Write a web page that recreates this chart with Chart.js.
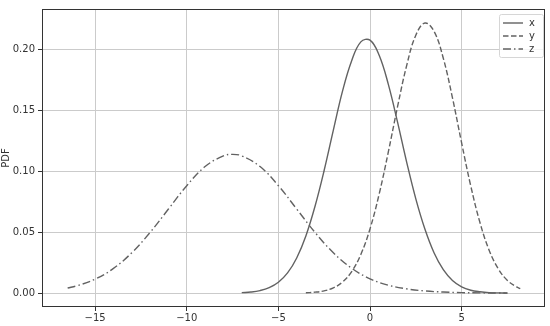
<!DOCTYPE html>
<html>
<head>
<meta charset="utf-8">
<script src="https://cdn.jsdelivr.net/npm/chart.js@4"></script>
<style>
  html, body { margin: 0; padding: 0; background: #fff; }
  #wrap { width: 550px; height: 326px; position: relative; }
</style>
</head>
<body>
<div id="wrap"><canvas id="pdfChart" width="550" height="326"></canvas></div>
<script>
// values
const xVals = [-7, -6.5, -6, -5.5, -5, -4.5, -4, -3.5, -3, -2.5, -2, -1.5, -1, -0.5, 0, 0.5, 1, 1.5, 2, 2.5, 3, 3.5, 4, 4.5, 5, 5.5, 6, 6.5, 7, 7.5];
const xPdf = [0.0004, 0.0009, 0.0021, 0.0045, 0.0089, 0.0166, 0.0289, 0.047, 0.0714, 0.101, 0.134, 0.166, 0.191, 0.2065, 0.2079, 0.1955, 0.1716, 0.1407, 0.1077, 0.0775, 0.0525, 0.033, 0.0193, 0.0104, 0.0052, 0.0024, 0.0011, 0.0004, 0.0002, 0.0001];

const yVals = [-3.5, -3, -2.5, -2, -1.5, -1, -0.5, 0, 0.5, 1, 1.5, 2, 2.5, 3, 3.5, 4, 4.5, 5, 5.5, 6, 6.5, 7, 7.5, 8, 8.2];
const yPdf = [0.0003, 0.0008, 0.0019, 0.0043, 0.0091, 0.0177, 0.0318, 0.0528, 0.0814, 0.116, 0.153, 0.187, 0.212, 0.222, 0.215, 0.193, 0.1605, 0.1234, 0.088, 0.058, 0.0353, 0.020, 0.0104, 0.0051, 0.0037];

const zVals = [-16.5, -16, -15, -14, -13, -12, -11, -10, -9, -8, -7.5, -7, -6, -5, -4, -3, -2, -1, 0, 1, 2, 3, 4, 5, 6, 7, 7.5];
const zPdf = [0.0042, 0.006, 0.0115, 0.0203, 0.0332, 0.0499, 0.0691, 0.0883, 0.104, 0.1128, 0.114, 0.1128, 0.104, 0.0883, 0.0691, 0.0499, 0.0332, 0.0205, 0.0118, 0.0065, 0.0035, 0.0018, 0.0009, 0.0004, 0.0002, 0.0001, 0.0];

const xTicks = [-15, -10, -5, 0, 5];
const yTicks = [0, 0.05, 0.10, 0.15, 0.20];

const lineColor = '#626262';

function toPoints(xs, ys) {
    return xs.map((v, i) => ({ x: v, y: ys[i] }));
}

const frameAndLegend = {
    id: 'frameAndLegend',
    afterDatasetsDraw(chart) {
        const ctx = chart.ctx;
        const a = chart.chartArea;
        ctx.save();
        // axes box
        ctx.strokeStyle = '#333';
        ctx.lineWidth = 1;
        ctx.strokeRect(a.left + 0.5, a.top + 0.5, a.right - a.left - 1, a.bottom - a.top - 1);

        // legend box in upper right
        const bx = a.right - 46, by = a.top + 5, bw = 44, bh = 43;
        ctx.fillStyle = 'rgba(255,255,255,0.8)';
        ctx.strokeStyle = '#d6d6d6';
        ctx.beginPath();
        ctx.roundRect(bx + 0.5, by + 0.5, bw, bh, 2);
        ctx.fill();
        ctx.stroke();
        ctx.font = '10px "DejaVu Sans"';
        ctx.textBaseline = 'middle';
        chart.data.datasets.forEach((ds, i) => {
            const ly = by + 9 + i * 13;
            ctx.strokeStyle = ds.borderColor;
            ctx.lineWidth = ds.borderWidth;
            ctx.setLineDash(ds.borderDash || []);
            ctx.beginPath();
            ctx.moveTo(bx + 4, ly);
            ctx.lineTo(bx + 24, ly);
            ctx.stroke();
            ctx.setLineDash([]);
            ctx.fillStyle = '#333';
            ctx.fillText(ds.label, bx + 30, ly);
        });
        ctx.restore();
    }
};

const ctx = document.getElementById('pdfChart');

new Chart(ctx, {
    type: 'line',
    data: {
        datasets: [{
            label: 'x',
            data: toPoints(xVals, xPdf),
            borderColor: lineColor,
            borderWidth: 1.4,
            pointRadius: 0,
            tension: 0.4,
            fill: false
        },
        {
            label: 'y',
            data: toPoints(yVals, yPdf),
            borderColor: lineColor,
            borderWidth: 1.4,
            borderDash: [5.5, 2.5],
            pointRadius: 0,
            tension: 0.4,
            fill: false
        },
        {
            label: 'z',
            data: toPoints(zVals, zPdf),
            borderColor: lineColor,
            borderWidth: 1.4,
            borderDash: [8, 3, 1.5, 3],
            pointRadius: 0,
            tension: 0.4,
            fill: false
        }]
    },
    options: {
        responsive: false,
        animation: false,
        events: [],
        layout: { padding: { top: 7, right: 5, left: 0, bottom: 0 } },
        plugins: {
            legend: { display: false },
            tooltip: { enabled: false }
        },
        scales: {
            x: {
                type: 'linear',
                min: -17.9,
                max: 9.55,
                afterBuildTicks: (scale) => { scale.ticks = xTicks.map(v => ({ value: v })); },
                afterFit: (scale) => { scale.height = 19; },
                grid: { color: '#cbcbcb', tickColor: '#333', tickLength: 4 },
                border: { display: false },
                ticks: {
                    color: '#333',
                    font: { family: 'DejaVu Sans', size: 10 },
                    padding: 1,
                    maxRotation: 0,
                    callback: (v) => String(v).replace('-', '\u2212')
                }
            },
            y: {
                min: -0.0114,
                max: 0.2335,
                afterBuildTicks: (scale) => { scale.ticks = yTicks.map(v => ({ value: v })); },
                afterFit: (scale) => { scale.width = 42; },
                grid: { color: '#cbcbcb', tickColor: '#333', tickLength: 4 },
                border: { display: false },
                title: {
                    display: true,
                    text: 'PDF',
                    color: '#333',
                    font: { family: 'DejaVu Sans', size: 10 },
                    padding: 0
                },
                ticks: {
                    color: '#333',
                    font: { family: 'DejaVu Sans', size: 10 },
                    padding: 3,
                    callback: (v) => v.toFixed(2)
                }
            }
        }
    },
    plugins: [frameAndLegend]
});
</script>
</body>
</html>
